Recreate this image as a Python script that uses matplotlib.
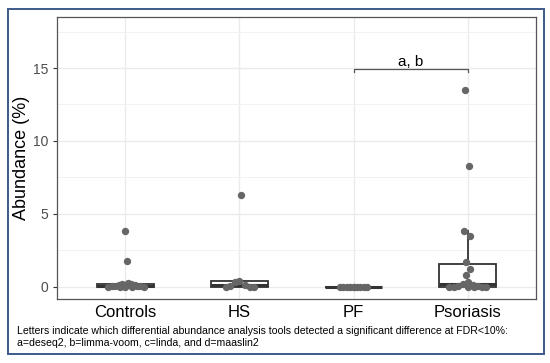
import numpy as np
import matplotlib.pyplot as plt
from matplotlib.patches import Rectangle

plt.rcParams['font.family'] = ['Liberation Sans', 'DejaVu Sans']

groups = ['Controls', 'HS', 'PF', 'Psoriasis']
controls = [3.8, 1.75, 0.25, 0.2, 0.18, 0.12, 0.08, 0.05, 0.03, 0.02, 0.01, 0, 0, 0, 0, 0]
hs = [6.3, 0.4, 0.35, 0.12, 0.05, 0, 0, 0]
pf = [0, 0, 0, 0, 0, 0, 0, 0, 0, 0]
psoriasis = [13.5, 8.3, 3.8, 3.45, 1.7, 1.2, 0.8, 0.3, 0.2, 0.1, 0.05, 0.02, 0, 0, 0, 0, 0, 0]
# fixed horizontal jitter for the points
jit_controls = [0, 0.01, 0.02, -0.03, 0.05, -0.06, 0.08, -0.09, 0.1, -0.12, 0.13, -0.15, 0.16, -0.05, 0.06, 0.0]
jit_hs = [0.01, 0.0, -0.04, 0.05, -0.08, 0.09, -0.12, 0.13]
jit_pf = [-0.12, -0.09, -0.06, -0.03, 0, 0.03, 0.06, 0.09, 0.12, 0.0]
jit_pso = [-0.02, 0.01, -0.03, 0.02, -0.01, 0.02, -0.01, 0.0, -0.04, 0.05, -0.08, 0.09, -0.12, 0.13, -0.16, 0.16, 0.0, 0.06]
data = [controls, hs, pf, psoriasis]
jits = [jit_controls, jit_hs, jit_pf, jit_pso]
bracket_label = 'a, b'
caption = ('Letters indicate which differential abundance analysis tools detected a significant difference at FDR<10%:\n'
           'a=deseq2, b=limma-voom, c=linda, and d=maaslin2')

fig = plt.figure(figsize=(5.5, 3.63), dpi=100)
ax = fig.add_axes([57/550, 1-299/363, (536-57)/550, (299-17)/363])

pos = np.arange(1, 5)
ax.boxplot(data, positions=pos, widths=0.5, showfliers=False, patch_artist=True,
           boxprops=dict(facecolor='white', edgecolor='#333333', linewidth=1.3),
           medianprops=dict(color='#333333', linewidth=2.2),
           whiskerprops=dict(color='#333333', linewidth=1.3),
           capprops=dict(linewidth=0), zorder=3)
for p, d, j in zip(pos, data, jits):
    ax.scatter(p + np.array(j), d, s=28, color='#666666', zorder=4, linewidths=0)

ax.set_xlim(0.4, 4.6)
ax.set_ylim(-0.85, 18.5)
ax.set_xticks(pos)
ax.set_xticklabels(groups, fontsize=12, color='black')
ax.set_yticks([0, 5, 10, 15])
ax.set_yticks([2.5, 7.5, 12.5, 17.5], minor=True)
ax.tick_params(axis='y', which='major', labelsize=10, labelcolor='#4d4d4d', color='#333333', length=3)
ax.tick_params(axis='y', which='minor', length=0)
ax.tick_params(axis='x', length=0, pad=4)
ax.grid(True, which='major', color='#ebebeb', linewidth=1)
ax.grid(True, which='minor', axis='y', color='#f2f2f2', linewidth=0.7)
ax.set_axisbelow(True)
for s in ax.spines.values():
    s.set_color('#555555')
    s.set_linewidth(0.9)
ax.set_ylabel('Abundance (%)', fontsize=13, labelpad=2)

# significance bracket
ax.plot([3, 3, 4, 4], [14.7, 14.9, 14.9, 14.7], color='#555555', linewidth=0.9, zorder=5)
ax.text(3.5, 14.95, bracket_label, ha='center', va='bottom', fontsize=11)

fig.text(17/550, 1-337/363, caption, ha='left', va='center', fontsize=7.6, linespacing=1.2)

fig.patches.append(Rectangle((8/550, 1-354/363), 536/550, 345/363, transform=fig.transFigure,
                             fill=False, edgecolor='#3d5a8a', linewidth=1.4))
fig.savefig('out.png', dpi=100)
